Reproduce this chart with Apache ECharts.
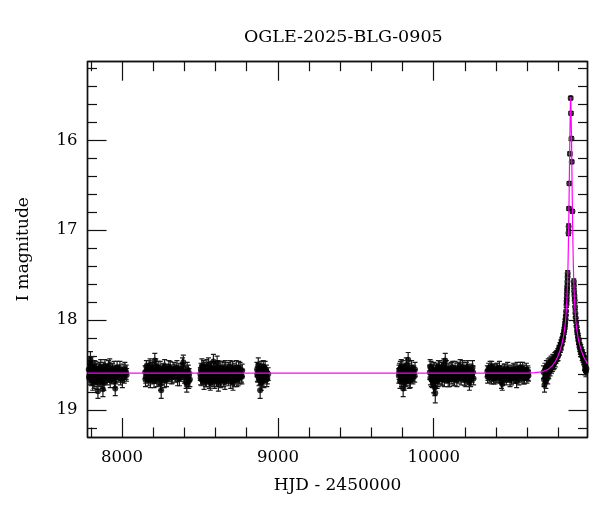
<!DOCTYPE html>
<html>
<head>
<meta charset="utf-8">
<script src="https://cdn.jsdelivr.net/npm/echarts@6/dist/echarts.min.js"></script>
<style>html,body{margin:0;padding:0;background:#fff;}#chart{width:600px;height:512px;}</style>
</head>
<body>
<div id="chart"></div>
<script>
// ---- chart texts ----
const TITLE = 'OGLE-2025-BLG-0905';
const X_NAME = 'HJD - 2450000';
const Y_NAME = 'I magnitude';

// ---- axis extents and ticks ----
const X_MIN = 7778, X_MAX = 10987;
const Y_MIN = 15.126, Y_MAX = 19.30;
const xMajorTicks = [8000, 9000, 10000];
const xMinorTicks = [7800, 8200, 8400, 8600, 8800, 9200, 9400, 9600, 9800, 10200, 10400, 10600, 10800];
const yMajorTicks = [16, 17, 18, 19];
const yMinorTicks = [15.2, 15.4, 15.6, 15.8, 16.2, 16.4, 16.6, 16.8, 17.2, 17.4, 17.6, 17.8, 18.2, 18.4, 18.6, 18.8, 19.2];

// ---- photometry: [HJD-2450000, I mag, error] ----
const season2017 = [
 [7786,18.55,.07],[7790,18.62,.07],[7794,18.48,.07],[7797,18.44,.09],[7801,18.58,.07],[7804,18.66,.07],
 [7808,18.60,.07],[7811,18.70,.08],[7815,18.57,.07],[7818,18.63,.07],[7822,18.52,.07],[7826,18.67,.07],
 [7829,18.59,.06],[7833,18.61,.07],[7837,18.55,.07],[7841,18.64,.07],[7845,18.79,.08],[7849,18.58,.06],
 [7853,18.62,.07],[7857,18.54,.07],[7861,18.66,.07],[7865,18.60,.06],[7869,18.57,.07],[7873,18.69,.07],
 [7877,18.77,.08],[7881,18.59,.07],[7886,18.63,.07],[7890,18.51,.07],[7895,18.60,.07],[7900,18.56,.06],
 [7905,18.65,.07],[7910,18.58,.07],[7915,18.62,.07],[7921,18.50,.07],[7927,18.59,.07],[7933,18.64,.07],
 [7939,18.55,.07],[7945,18.61,.07],[7951,18.68,.07],[7956,18.76,.08],[7962,18.58,.07],[7968,18.53,.07],
 [7975,18.62,.07],[7982,18.57,.07],[7990,18.65,.07],[7998,18.60,.07],[8006,18.56,.07],[8014,18.63,.07],
 [8022,18.59,.07],[8029,18.61,.07],
 [7788,18.64,.08],[7799,18.53,.08],[7806,18.49,.08],[7813,18.61,.08],[7820,18.68,.08],[7831,18.54,.08],
 [7839,18.69,.08],[7847,18.57,.08],[7855,18.66,.08],[7863,18.52,.08],[7871,18.62,.08],[7879,18.55,.08],
 [7884,18.70,.08],[7893,18.57,.08],[7903,18.61,.08],[7913,18.53,.08],[7924,18.67,.08],[7936,18.60,.08],
 [7948,18.54,.08],[7959,18.63,.08],[7971,18.58,.08],[7986,18.54,.08],[8002,18.67,.08],[8018,18.55,.08],
 [8026,18.58,.08]
];
const season2018 = [
 [8148,18.58,.07],[8152,18.63,.07],[8156,18.52,.07],[8160,18.60,.07],[8164,18.55,.07],[8168,18.66,.07],
 [8172,18.57,.06],[8176,18.61,.07],[8180,18.50,.07],[8184,18.64,.07],[8188,18.58,.07],[8192,18.54,.07],
 [8196,18.62,.06],[8200,18.59,.07],[8205,18.68,.07],[8210,18.45,.08],[8214,18.56,.07],[8218,18.63,.07],
 [8222,18.57,.06],[8227,18.60,.07],[8232,18.53,.07],[8237,18.65,.07],[8242,18.59,.06],[8247,18.71,.07],
 [8251,18.78,.09],[8256,18.58,.07],[8261,18.62,.07],[8266,18.55,.07],[8271,18.67,.08],[8276,18.60,.07],
 [8282,18.56,.07],[8288,18.63,.07],[8294,18.58,.06],[8300,18.52,.07],[8306,18.61,.07],[8312,18.57,.07],
 [8318,18.64,.07],[8325,18.59,.07],[8332,18.54,.07],[8340,18.62,.07],[8348,18.58,.07],[8356,18.66,.07],
 [8364,18.55,.07],[8372,18.61,.07],[8380,18.59,.07],[8388,18.50,.08],[8393,18.47,.08],[8400,18.63,.07],
 [8406,18.58,.07],[8411,18.69,.07],[8415,18.72,.08],[8420,18.64,.07],[8425,18.57,.07],[8430,18.61,.07],
 [8435,18.66,.08],
 [8150,18.66,.08],[8158,18.57,.08],[8166,18.61,.08],[8174,18.53,.08],[8182,18.67,.08],[8190,18.60,.08],
 [8198,18.55,.08],[8207,18.62,.08],[8216,18.51,.08],[8224,18.66,.08],[8234,18.58,.08],[8244,18.54,.08],
 [8253,18.64,.08],[8263,18.57,.08],[8273,18.52,.08],[8285,18.66,.08],[8297,18.60,.08],[8309,18.54,.08],
 [8321,18.62,.08],[8336,18.57,.08],[8352,18.53,.08],[8368,18.65,.08],[8384,18.56,.08],[8397,18.60,.08],
 [8418,18.55,.08],[8428,18.68,.08]
];
const season2019 = [
 [8502,18.60,.07],[8506,18.55,.07],[8510,18.66,.07],[8514,18.58,.07],[8518,18.63,.07],[8522,18.52,.07],
 [8526,18.69,.08],[8530,18.57,.07],[8534,18.61,.07],[8538,18.54,.07],[8542,18.67,.07],[8546,18.59,.07],
 [8550,18.62,.07],[8554,18.50,.08],[8558,18.64,.07],[8562,18.56,.07],[8566,18.70,.08],[8570,18.60,.07],
 [8574,18.53,.07],[8578,18.65,.07],[8582,18.58,.07],[8586,18.46,.08],[8590,18.62,.07],[8594,18.68,.08],
 [8598,18.57,.07],[8602,18.63,.07],[8606,18.55,.07],[8610,18.48,.08],[8614,18.60,.07],[8618,18.71,.08],
 [8622,18.58,.07],[8626,18.64,.07],[8630,18.53,.07],[8635,18.61,.07],[8640,18.67,.07],[8645,18.57,.07],
 [8650,18.62,.07],[8655,18.54,.07],[8660,18.69,.08],[8665,18.59,.07],[8670,18.63,.07],[8676,18.56,.07],
 [8682,18.66,.07],[8688,18.60,.07],[8694,18.52,.07],[8700,18.64,.07],[8706,18.58,.07],[8712,18.70,.08],
 [8718,18.55,.07],[8724,18.62,.07],[8730,18.57,.07],[8736,18.67,.07],[8742,18.60,.07],[8748,18.53,.07],
 [8754,18.64,.07],[8760,18.58,.07],[8766,18.62,.07],[8771,18.56,.07],
 [8504,18.64,.08],[8512,18.51,.08],[8520,18.60,.08],[8528,18.55,.08],[8536,18.66,.08],[8544,18.52,.08],
 [8552,18.60,.08],[8560,18.68,.08],[8568,18.55,.08],[8576,18.61,.08],[8584,18.66,.08],[8592,18.54,.08],
 [8600,18.60,.08],[8608,18.66,.08],[8616,18.53,.08],[8624,18.61,.08],[8632,18.67,.08],[8642,18.54,.08],
 [8652,18.66,.08],[8662,18.53,.08],[8673,18.60,.08],[8685,18.55,.08],[8697,18.68,.08],[8709,18.54,.08],
 [8721,18.66,.08],[8733,18.53,.08],[8745,18.65,.08],[8757,18.55,.08],[8769,18.63,.08]
];
const season2020 = [
 [8866,18.55,.08],[8870,18.62,.07],[8874,18.50,.08],[8878,18.66,.07],[8882,18.58,.07],[8886,18.78,.09],
 [8890,18.60,.07],[8894,18.70,.08],[8898,18.56,.07],[8902,18.63,.07],[8906,18.52,.07],[8910,18.67,.08],
 [8915,18.59,.07],[8920,18.62,.07],[8926,18.57,.07],[8932,18.64,.07],[8938,18.60,.07],
 [8868,18.60,.08],[8876,18.57,.08],[8884,18.64,.08],[8892,18.54,.08],[8900,18.66,.08],[8908,18.58,.08],
 [8918,18.54,.08],[8929,18.66,.08]
];
const season2022 = [
 [9776,18.62,.08],[9780,18.55,.07],[9784,18.68,.08],[9788,18.59,.07],[9792,18.52,.08],[9796,18.64,.07],
 [9800,18.58,.07],[9804,18.76,.09],[9808,18.61,.07],[9812,18.70,.08],[9816,18.56,.07],[9820,18.63,.07],
 [9824,18.50,.08],[9828,18.66,.07],[9832,18.59,.07],[9836,18.44,.08],[9840,18.62,.07],[9845,18.55,.07],
 [9850,18.67,.08],[9855,18.60,.07],[9860,18.57,.07],[9866,18.64,.07],[9872,18.58,.07],[9878,18.62,.07],
 [9778,18.58,.08],[9786,18.54,.08],[9794,18.66,.08],[9802,18.53,.08],[9810,18.60,.08],[9818,18.66,.08],
 [9826,18.58,.08],[9834,18.62,.08],[9843,18.68,.08],[9858,18.53,.08],[9869,18.60,.08],[9880,18.55,.08]
];
const season2023 = [
 [9975,18.58,.08],[9979,18.64,.08],[9983,18.53,.07],[9987,18.61,.07],[9991,18.67,.08],[9995,18.56,.07],
 [9999,18.72,.09],[10003,18.60,.07],[10007,18.75,.09],[10010,18.81,.11],[10014,18.63,.07],[10018,18.55,.07],
 [10022,18.68,.08],[10026,18.59,.07],[10030,18.52,.07],[10035,18.64,.07],[10040,18.57,.07],[10045,18.61,.07],
 [10050,18.54,.07],[10055,18.66,.07],[10060,18.58,.07],[10065,18.50,.07],[10070,18.62,.07],[10074,18.45,.08],
 [10078,18.56,.07],[10083,18.63,.07],[10088,18.59,.07],[10093,18.67,.07],[10098,18.55,.07],[10104,18.61,.07],
 [10110,18.57,.07],[10116,18.64,.07],[10122,18.53,.07],[10128,18.60,.07],[10134,18.66,.07],[10140,18.58,.07],
 [10146,18.62,.07],[10152,18.55,.07],[10158,18.63,.07],[10164,18.59,.07],[10170,18.51,.07],[10176,18.65,.07],
 [10182,18.57,.07],[10188,18.62,.07],[10194,18.54,.07],[10200,18.60,.07],[10206,18.67,.07],[10212,18.58,.07],
 [10218,18.52,.07],[10224,18.63,.08],[10229,18.70,.08],[10234,18.60,.07],[10240,18.56,.07],[10246,18.62,.07],
 [10252,18.58,.07],[10256,18.65,.07],
 [9977,18.52,.08],[9985,18.66,.08],[9993,18.58,.08],[10001,18.55,.08],[10012,18.58,.08],[10020,18.62,.08],
 [10028,18.66,.08],[10038,18.53,.08],[10048,18.64,.08],[10058,18.55,.08],[10068,18.66,.08],[10081,18.53,.08],
 [10091,18.60,.08],[10101,18.66,.08],[10113,18.55,.08],[10125,18.65,.08],[10137,18.54,.08],[10149,18.66,.08],
 [10161,18.55,.08],[10173,18.60,.08],[10185,18.53,.08],[10197,18.65,.08],[10209,18.55,.08],[10221,18.60,.08],
 [10237,18.66,.08],[10249,18.53,.08]
];
const season2024 = [
 [10344,18.57,.06],[10348,18.61,.06],[10352,18.54,.06],[10356,18.59,.06],[10360,18.63,.06],[10364,18.56,.06],
 [10368,18.60,.06],[10372,18.52,.06],[10376,18.62,.06],[10380,18.58,.06],[10384,18.65,.06],[10388,18.55,.06],
 [10392,18.60,.06],[10396,18.57,.06],[10400,18.63,.06],[10405,18.59,.06],[10410,18.54,.06],[10415,18.61,.06],
 [10420,18.57,.06],[10425,18.64,.06],[10430,18.60,.06],[10435,18.69,.07],[10440,18.71,.07],[10445,18.58,.06],
 [10450,18.62,.06],[10455,18.55,.06],[10460,18.60,.06],[10466,18.66,.06],[10472,18.57,.06],[10478,18.62,.06],
 [10484,18.59,.06],[10490,18.67,.07],[10496,18.56,.06],[10502,18.61,.06],[10508,18.58,.06],[10514,18.64,.06],
 [10520,18.55,.06],[10526,18.60,.06],[10532,18.68,.07],[10538,18.57,.06],[10544,18.62,.06],[10550,18.59,.06],
 [10556,18.53,.06],[10562,18.63,.06],[10568,18.58,.06],[10574,18.65,.06],[10580,18.56,.06],[10586,18.61,.06],
 [10592,18.59,.06],[10598,18.64,.06],[10604,18.57,.06],[10608,18.62,.06],
 [10346,18.63,.07],[10354,18.58,.07],[10362,18.53,.07],[10370,18.64,.07],[10378,18.56,.07],[10386,18.60,.07],
 [10394,18.64,.07],[10402,18.55,.07],[10412,18.62,.07],[10422,18.53,.07],[10432,18.58,.07],[10442,18.65,.07],
 [10452,18.56,.07],[10463,18.62,.07],[10475,18.54,.07],[10487,18.60,.07],[10499,18.65,.07],[10511,18.55,.07],
 [10523,18.63,.07],[10535,18.54,.07],[10547,18.65,.07],[10559,18.57,.07],[10571,18.54,.07],[10583,18.64,.07],
 [10595,18.55,.07],[10606,18.60,.07]
];
const season2025 = [
 [10705,18.58,.07],[10708,18.66,.08],[10711,18.72,.08],[10714,18.55,.07],[10717,18.62,.07],[10720,18.68,.08],
 [10723,18.52,.07],[10726,18.60,.07],[10729,18.57,.07],[10732,18.64,.07],[10735,18.50,.07],[10738,18.58,.07],
 [10741,18.54,.07],[10744,18.48,.06],[10747,18.56,.06],[10750,18.50,.06],[10753,18.46,.06],[10756,18.53,.06],
 [10759,18.47,.06],[10762,18.51,.06],[10765,18.44,.06],[10768,18.49,.06],[10771,18.45,.06],[10774,18.48,.06],
 [10777,18.42,.06],[10780,18.46,.06],[10783,18.40,.05],[10786,18.43,.05],[10789,18.39,.05],[10792,18.41,.05],
 [10795,18.37,.05],[10798,18.40,.05],[10801,18.35,.05],[10804,18.33,.05],[10807,18.34,.05],[10810,18.30,.05],
 [10813,18.31,.05],[10816,18.27,.05],[10819,18.28,.05],[10822,18.24,.04],[10825,18.23,.04],[10828,18.19,.04],
 [10831,18.20,.04],[10834,18.15,.04],[10837,18.12,.04],[10840,18.09,.04],[10842,18.06,.04],[10844,18.03,.04],
 [10846,17.99,.04],[10848,17.95,.04],[10850,17.90,.04],[10852,17.83,.03],[10853,17.79,.03],[10854,17.75,.03],
 [10855,17.70,.03],[10856,17.66,.03],[10857,17.62,.03],[10858,17.57,.03],[10859,17.52,.03],[10860,17.48,.03],
 [10865,17.03,.03],[10866,16.96,.03],[10868,16.76,.02],[10870,16.48,.02],[10874,16.15,.02],[10879,15.53,.02],
 [10881,15.70,.02],[10884,15.98,.02],[10886,16.24,.02],[10890,16.79,.02],
 [10899,17.57,.03],[10900,17.62,.03],[10901,17.68,.03],[10903,17.73,.03],[10905,17.78,.03],[10907,17.85,.04],
 [10909,17.92,.04],[10911,17.97,.04],[10914,18.02,.04],[10917,18.07,.04],[10920,18.12,.04],[10923,18.15,.04],
 [10926,18.19,.04],[10929,18.22,.05],[10932,18.25,.05],[10935,18.27,.05],[10938,18.30,.05],[10941,18.33,.05],
 [10944,18.32,.05],[10947,18.36,.05],[10950,18.35,.05],[10953,18.40,.05],[10956,18.38,.05],[10959,18.42,.05],
 [10962,18.44,.05],[10965,18.41,.05],[10968,18.50,.06],[10971,18.55,.06],[10974,18.52,.06],[10977,18.57,.06],
 [10980,18.54,.06]
];

// ---- model light curve ----
const modelHjd = [7778,10600,10650,10690,10720,10740,10760,10780,10795,10810,10822,10832,10840,10846,10851,10855,10859,10862,10865,10868,10871,10874,10877,10879,10881,10884,10887,10890,10893,10896,10899,10903,10907,10912,10918,10926,10936,10948,10963,10978,10987];
const modelMag = [18.59,18.59,18.585,18.575,18.56,18.54,18.51,18.46,18.41,18.34,18.27,18.19,18.10,18.01,17.89,17.76,17.58,17.38,17.10,16.75,16.35,15.95,15.62,15.52,15.62,15.95,16.35,16.75,17.10,17.38,17.58,17.76,17.89,18.01,18.10,18.19,18.27,18.34,18.41,18.46,18.48];

const allObs = [].concat(season2017, season2018, season2019, season2020, season2022, season2023, season2024, season2025);
const modelData = modelHjd.map((h, i) => [h, modelMag[i]]);

const FONT = 'DejaVu Serif';
const INK = '#111';
const plain = v => String(v);

function xAxisDef(position, ticks, len, labels, extra) {
  return Object.assign({
    type: 'value', position: position, min: X_MIN, max: X_MAX,
    axisLine: { show: true, onZero: false, lineStyle: { color: INK, width: 1.4 } },
    axisTick: { show: true, inside: true, length: len, customValues: ticks, lineStyle: { color: INK, width: 1.2 } },
    axisLabel: labels ? { show: true, customValues: ticks, formatter: plain, margin: 12, fontFamily: FONT, fontSize: 16.5, color: '#000' } : { show: false },
    splitLine: { show: false }, minorTick: { show: false }
  }, extra || {});
}
function yAxisDef(position, ticks, len, labels, extra) {
  return Object.assign({
    type: 'value', position: position, min: Y_MIN, max: Y_MAX, inverse: true,
    axisLine: { show: true, onZero: false, lineStyle: { color: INK, width: 1.4 } },
    axisTick: { show: true, inside: true, length: len, customValues: ticks, lineStyle: { color: INK, width: 1.2 } },
    axisLabel: labels ? { show: true, customValues: ticks, formatter: plain, margin: 10, fontFamily: FONT, fontSize: 16.5, color: '#000' } : { show: false },
    splitLine: { show: false }, minorTick: { show: false }
  }, extra || {});
}

const chart = echarts.init(document.getElementById('chart'), null, { renderer: 'canvas' });
chart.setOption({
  animation: false,
  backgroundColor: '#fff',
  title: {
    text: TITLE, left: 239, top: 23,
    textStyle: { fontFamily: FONT, fontSize: 17.5, fontWeight: 'normal', color: '#000' }
  },
  grid: { left: 87.5, right: 12.5, top: 61.7, bottom: 75, containLabel: false },
  xAxis: [
    xAxisDef('bottom', xMajorTicks, 19, true, {
      name: X_NAME, nameLocation: 'middle', nameGap: 40,
      nameTextStyle: { fontFamily: FONT, fontSize: 17, color: '#000' }
    }),
    xAxisDef('bottom', xMinorTicks, 9.5, false),
    xAxisDef('top', xMajorTicks, 19, false),
    xAxisDef('top', xMinorTicks, 9.5, false)
  ],
  yAxis: [
    yAxisDef('left', yMajorTicks, 19, true, {
      name: Y_NAME, nameLocation: 'middle', nameGap: 55.5,
      nameTextStyle: { fontFamily: FONT, fontSize: 17, color: '#000' }
    }),
    yAxisDef('left', yMinorTicks, 9.5, false),
    yAxisDef('right', yMajorTicks, 19, false),
    yAxisDef('right', yMinorTicks, 9.5, false)
  ],
  series: [
    {
      type: 'custom', name: 'errors', xAxisIndex: 0, yAxisIndex: 0, z: 2, clip: true,
      data: allObs, encode: { x: 0, y: 1 },
      renderItem: function (params, api) {
        const x = api.value(0), y = api.value(1), e = api.value(2);
        const a = api.coord([x, y - e]);
        const b = api.coord([x, y + e]);
        const h = 2.5;
        const st = { stroke: '#1a1a1a', lineWidth: 1.2 };
        return {
          type: 'group',
          children: [
            { type: 'line', shape: { x1: a[0], y1: a[1], x2: b[0], y2: b[1] }, style: st },
            { type: 'line', shape: { x1: a[0] - h, y1: a[1], x2: a[0] + h, y2: a[1] }, style: st },
            { type: 'line', shape: { x1: b[0] - h, y1: b[1], x2: b[0] + h, y2: b[1] }, style: st }
          ]
        };
      }
    },
    {
      type: 'scatter', name: 'data', xAxisIndex: 0, yAxisIndex: 0, z: 3,
      data: allObs.map(d => [d[0], d[1]]),
      symbol: 'circle', symbolSize: 6,
      itemStyle: { color: '#000' }
    },
    {
      type: 'line', name: 'model', xAxisIndex: 0, yAxisIndex: 0, z: 4,
      data: modelData, showSymbol: false, smooth: false,
      lineStyle: { color: '#ff00ff', width: 1.2 }
    }
  ]
});
</script>
</body>
</html>
